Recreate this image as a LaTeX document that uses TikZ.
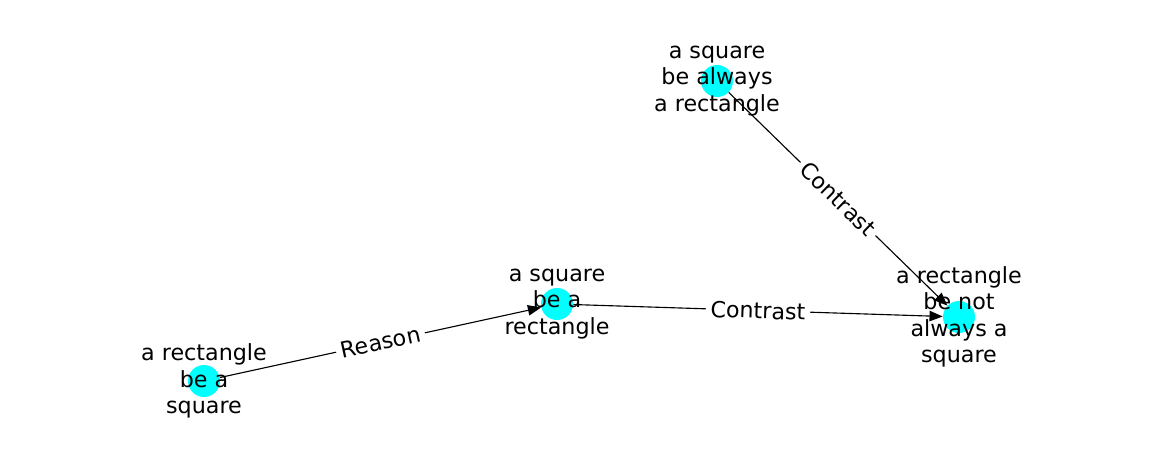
\documentclass[tikz,border=0pt]{standalone}
\usepackage{fontspec}
\setmainfont{DejaVu Sans}
\usetikzlibrary{arrows.meta}
\definecolor{aqua}{RGB}{0,255,255}

\tikzset{
  vertex/.style={circle, fill=aqua, draw=none, minimum size=0.8cm, inner sep=0pt},
  caption/.style={align=center, inner sep=0pt, font=\fontsize{15.8}{18.8}\selectfont},
  link/.style={-{Triangle[length=0.33cm,width=0.26cm]}, line width=0.8pt},
  tag/.style={midway, sloped, fill=white, inner sep=0.12cm, font=\fontsize{15.8}{18.8}\selectfont}
}

\begin{document}
\begin{tikzpicture}[x=0.025cm, y=-0.025cm]
  \useasboundingbox (0,0) rectangle (1162,462);

  \node[vertex] (rs) at (204,381) {};  % a rectangle be a square
  \node[vertex] (sr) at (557,304) {};  % a square be a rectangle
  \node[vertex] (sar) at (717,81) {};  % a square be always a rectangle
  \node[vertex] (rnas) at (959,317) {}; % a rectangle be not always a square

  \draw[link] (rs) -- node[tag]{Reason} (sr);
  \draw[link] (sr) -- node[tag]{Contrast} (rnas);
  \draw[link] (sar) -- node[tag]{Contrast} (rnas);

  \node[caption] (rs-t) at (rs) {a rectangle\\be a\\square};
  \node[caption] (sr-t) at (sr) {a square\\be a\\rectangle};
  \node[caption] (sar-t) at (sar) {a square\\be always\\a rectangle};
  \node[caption] (rnas-t) at (rnas) {a rectangle\\be not\\always a\\square};
\end{tikzpicture}
\end{document}
